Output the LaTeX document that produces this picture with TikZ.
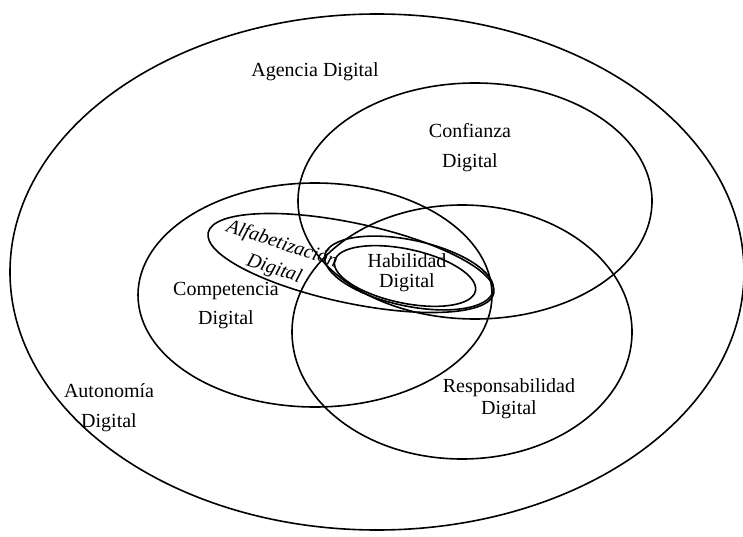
\documentclass[tikz,border=0pt]{standalone}
\usepackage{fontspec}
\setmainfont{Liberation Serif}

\begin{document}
\begin{tikzpicture}[x=0.5pt, y=0.5pt, line width=0.8pt,
    lbl/.style={align=center, inner sep=0pt, font=\fontsize{10pt}{12pt}\selectfont}]
        \useasboundingbox (0,0) rectangle (743,536);

        % outer sets
        \draw (377,264) ellipse [x radius=367, y radius=258];
        \draw (475,335) ellipse [x radius=177, y radius=118];
        \draw (315,241) ellipse [x radius=177, y radius=112];
        \draw (462,204) ellipse [x radius=170, y radius=127];

        % tilted sets in the middle
        \draw[shift={(351,273)}, rotate=-12] (0,0) ellipse [x radius=146, y radius=40];
        \draw[shift={(409,263)}, rotate=-12] (0,0) ellipse [x radius=86, y radius=33];
        \draw[shift={(405,260)}, rotate=-12] (0,0) ellipse [x radius=72, y radius=27];

        \node[lbl] (agencia) at (315,464) {Agencia Digital};
        \node[lbl] (confianza) at (470,388) {Confianza\\[3pt]Digital};
        \node[lbl] (competencia) at (226,230) {Competencia\\[2.5pt]Digital};
        \node[lbl] (autonomia) at (109,128) {Autonomía\\[3pt]Digital};
        \node[lbl] (responsabilidad) at (509,137) {Responsabilidad\\[-1pt]Digital};
        \node[lbl] (habilidad) at (407,263) {Habilidad\\[-2pt]Digital};
        \node[lbl, font=\fontsize{10pt}{12pt}\selectfont\itshape, rotate=-18] (alfabetizacion) at (278,279) {Alfabetización\\[1pt]Digital};
    \end{tikzpicture}
\end{document}
